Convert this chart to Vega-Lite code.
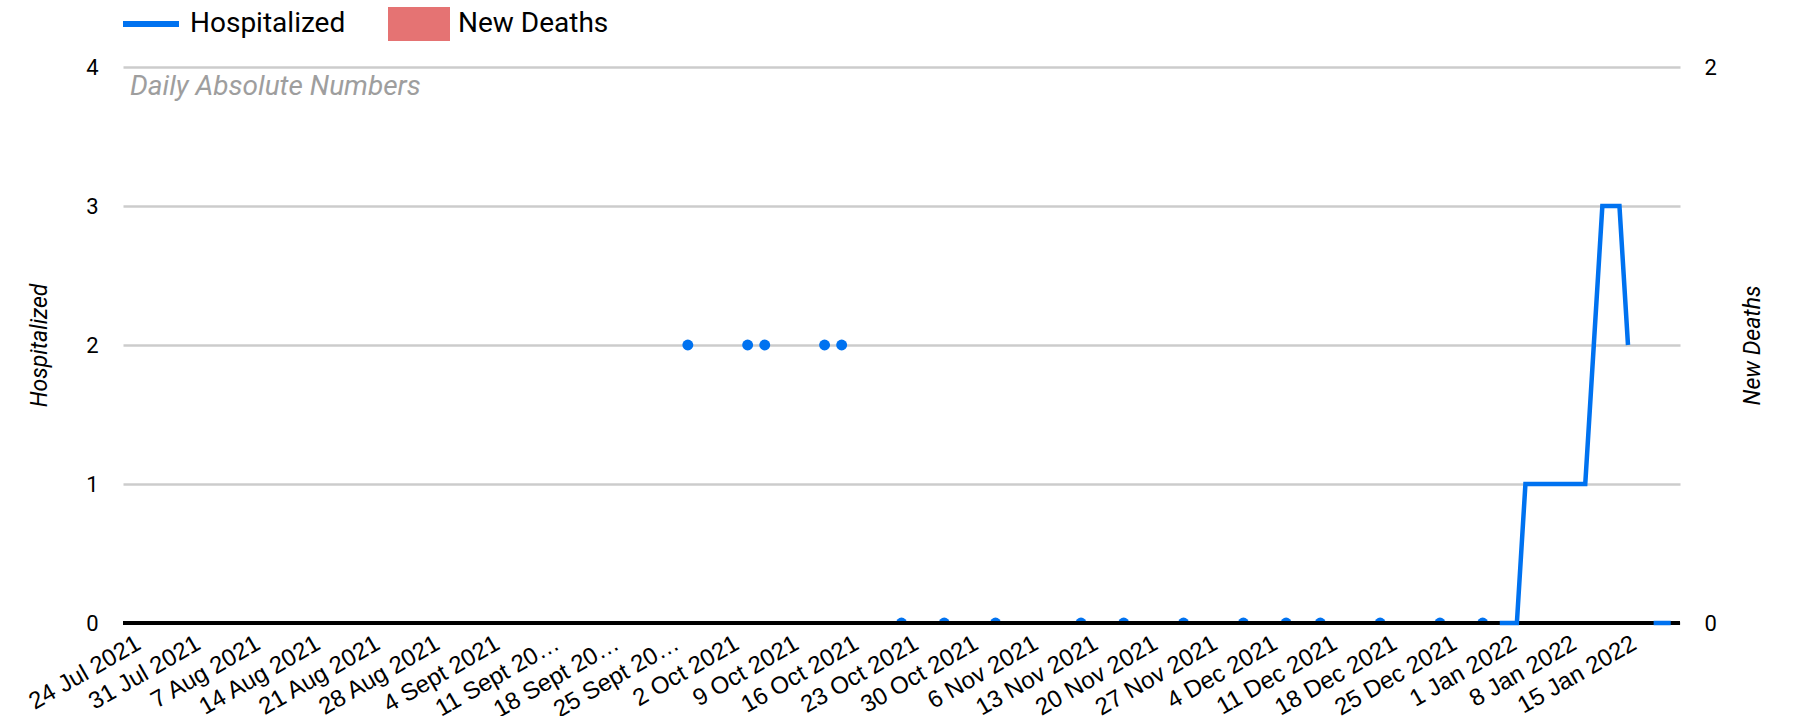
{
  "$schema": "https://vega.github.io/schema/vega-lite/v6.json",
  "width": 1557,
  "height": 556,
  "autosize": {"type": "none"},
  "padding": {"left": 123, "top": 67, "right": 118, "bottom": 93},
  "background": "white",
  "config": {"view": {"stroke": null}},
  "title": {
    "text": "Daily Absolute Numbers",
    "anchor": "start",
    "frame": "group",
    "orient": "top",
    "offset": -130,
    "baseline": "alphabetic",
    "font": "Roboto",
    "fontStyle": "italic",
    "fontWeight": "normal",
    "fontSize": 28,
    "color": "#9e9e9e",
    "dx": 7
  },
  "data": {
    "format": {"parse": {"date": "date:'%Y-%m-%d'"}},
    "values": [
      {"date": "2021-09-27", "hospitalized": 2, "new_deaths": 0},
      {"date": "2021-09-28", "hospitalized": null},
      {"date": "2021-10-04", "hospitalized": 2, "new_deaths": 0},
      {"date": "2021-10-05", "hospitalized": null},
      {"date": "2021-10-06", "hospitalized": 2, "new_deaths": 0},
      {"date": "2021-10-07", "hospitalized": null},
      {"date": "2021-10-13", "hospitalized": 2, "new_deaths": 0},
      {"date": "2021-10-14", "hospitalized": null},
      {"date": "2021-10-15", "hospitalized": 2, "new_deaths": 0},
      {"date": "2021-10-16", "hospitalized": null},
      {"date": "2021-10-22", "hospitalized": 0, "new_deaths": 0},
      {"date": "2021-10-23", "hospitalized": null},
      {"date": "2021-10-27", "hospitalized": 0, "new_deaths": 0},
      {"date": "2021-10-28", "hospitalized": null},
      {"date": "2021-11-02", "hospitalized": 0, "new_deaths": 0},
      {"date": "2021-11-03", "hospitalized": null},
      {"date": "2021-11-12", "hospitalized": 0, "new_deaths": 0},
      {"date": "2021-11-13", "hospitalized": null},
      {"date": "2021-11-17", "hospitalized": 0, "new_deaths": 0},
      {"date": "2021-11-18", "hospitalized": null},
      {"date": "2021-11-24", "hospitalized": 0, "new_deaths": 0},
      {"date": "2021-11-25", "hospitalized": null},
      {"date": "2021-12-01", "hospitalized": 0, "new_deaths": 0},
      {"date": "2021-12-02", "hospitalized": null},
      {"date": "2021-12-06", "hospitalized": 0, "new_deaths": 0},
      {"date": "2021-12-07", "hospitalized": null},
      {"date": "2021-12-10", "hospitalized": 0, "new_deaths": 0},
      {"date": "2021-12-11", "hospitalized": null},
      {"date": "2021-12-17", "hospitalized": 0, "new_deaths": 0},
      {"date": "2021-12-18", "hospitalized": null},
      {"date": "2021-12-24", "hospitalized": 0, "new_deaths": 0},
      {"date": "2021-12-25", "hospitalized": null},
      {"date": "2021-12-29", "hospitalized": 0, "new_deaths": 0},
      {"date": "2021-12-30", "hospitalized": null},
      {"date": "2021-12-31", "hospitalized": 0, "new_deaths": 0},
      {"date": "2022-01-01", "hospitalized": 0, "new_deaths": 0},
      {"date": "2022-01-02", "hospitalized": 0, "new_deaths": 0},
      {"date": "2022-01-03", "hospitalized": 1, "new_deaths": 0},
      {"date": "2022-01-04", "hospitalized": 1, "new_deaths": 0},
      {"date": "2022-01-05", "hospitalized": 1, "new_deaths": 0},
      {"date": "2022-01-06", "hospitalized": 1, "new_deaths": 0},
      {"date": "2022-01-07", "hospitalized": 1, "new_deaths": 0},
      {"date": "2022-01-08", "hospitalized": 1, "new_deaths": 0},
      {"date": "2022-01-09", "hospitalized": 1, "new_deaths": 0},
      {"date": "2022-01-10", "hospitalized": 1, "new_deaths": 0},
      {"date": "2022-01-11", "hospitalized": 2, "new_deaths": 0},
      {"date": "2022-01-12", "hospitalized": 3, "new_deaths": 0},
      {"date": "2022-01-13", "hospitalized": 3, "new_deaths": 0},
      {"date": "2022-01-14", "hospitalized": 3, "new_deaths": 0},
      {"date": "2022-01-15", "hospitalized": 2, "new_deaths": 0},
      {"date": "2022-01-16", "hospitalized": null},
      {"date": "2022-01-18", "hospitalized": 0, "new_deaths": 0},
      {"date": "2022-01-19", "hospitalized": 0, "new_deaths": 0},
      {"date": "2022-01-20", "hospitalized": 0, "new_deaths": 0}
    ]
  },
  "resolve": {"scale": {"y": "independent"}},
  "layer": [
    {
      "mark": {"type": "bar"},
      "encoding": {
        "x": {
          "field": "date",
          "type": "temporal",
          "title": null,
          "scale": {"domain": [{"year": 2021, "month": 7, "date": 23, "hours": 12}, {"year": 2022, "month": 1, "date": 20, "hours": 12}]},
          "axis": {
            "values": [
              {"year": 2021, "month": 7, "date": 24}, {"year": 2021, "month": 7, "date": 31},
              {"year": 2021, "month": 8, "date": 7}, {"year": 2021, "month": 8, "date": 14},
              {"year": 2021, "month": 8, "date": 21}, {"year": 2021, "month": 8, "date": 28},
              {"year": 2021, "month": 9, "date": 4}, {"year": 2021, "month": 9, "date": 11},
              {"year": 2021, "month": 9, "date": 18}, {"year": 2021, "month": 9, "date": 25},
              {"year": 2021, "month": 10, "date": 2}, {"year": 2021, "month": 10, "date": 9},
              {"year": 2021, "month": 10, "date": 16}, {"year": 2021, "month": 10, "date": 23},
              {"year": 2021, "month": 10, "date": 30}, {"year": 2021, "month": 11, "date": 6},
              {"year": 2021, "month": 11, "date": 13}, {"year": 2021, "month": 11, "date": 20},
              {"year": 2021, "month": 11, "date": 27}, {"year": 2021, "month": 12, "date": 4},
              {"year": 2021, "month": 12, "date": 11}, {"year": 2021, "month": 12, "date": 18},
              {"year": 2021, "month": 12, "date": 25}, {"year": 2022, "month": 1, "date": 1},
              {"year": 2022, "month": 1, "date": 8}, {"year": 2022, "month": 1, "date": 15}
            ],
            "labelExpr": "month(datum.value) == 8 && date(datum.value) >= 10 ? timeFormat(datum.value, '%-d') + ' Sept 20…' : replace(timeFormat(datum.value, '%-d %b %Y'), 'Sep ', 'Sept ')",
            "labelAngle": -30,
            "labelAlign": "right",
            "labelBaseline": "top",
            "labelFont": "Liberation Sans",
            "labelFontSize": 24,
            "labelColor": "#000000",
            "labelLimit": 400,
            "labelOverlap": false,
            "labelFlush": false,
            "labelBound": false,
            "labelPadding": 8,
            "ticks": false,
            "tickSize": 0,
            "domain": false,
            "grid": false
          }
        },
        "y": {
          "field": "new_deaths",
          "type": "quantitative",
          "scale": {"domain": [0, 2]},
          "axis": {
            "orient": "right",
            "values": [0, 1, 2],
            "format": "d",
            "title": "New Deaths",
            "titleFont": "Roboto",
            "titleFontStyle": "italic",
            "titleFontWeight": "normal",
            "titleFontSize": 23,
            "titleColor": "#000000",
            "titleAngle": -90,
            "titleAlign": "center",
            "titleBaseline": "middle",
            "titleX": 72,
            "titleY": 278,
            "labelFont": "Roboto",
            "labelFontSize": 22,
            "labelColor": "#000000",
            "labelPadding": 24,
            "ticks": false,
            "domain": false,
            "grid": false
          }
        },
        "color": {
          "datum": "New Deaths",
          "type": "nominal",
          "scale": {"domain": ["Hospitalized", "New Deaths"], "range": ["#0072f0", "#e57373"]},
          "legend": {
            "orient": "none",
            "legendX": -3,
            "legendY": -74,
            "direction": "horizontal",
            "title": null,
            "padding": 0,
            "symbolSize": 3136,
            "symbolStrokeWidth": 6,
            "symbolOpacity": 1,
            "symbolType": "square",
            "labelFont": "Roboto",
            "labelFontSize": 28,
            "labelColor": "#000000",
            "labelOffset": 8,
            "labelLimit": 300,
            "columnPadding": 33,
            "encode": {
              "symbols": {
                "update": {
                  "shape": {"signal": "datum.value === 'Hospitalized' ? 'M-1,-0.5M-1,0H1M1,0.5' : 'M-1,-0.5H1V0.5H-1Z'"},
                  "fill": {"signal": "datum.value === 'Hospitalized' ? 'transparent' : '#e57373'"},
                  "stroke": {"signal": "datum.value === 'Hospitalized' ? '#0072f0' : 'transparent'"},
                  "strokeWidth": {"value": 6}
                }
              }
            }
          }
        }
      }
    },
    {
      "encoding": {
        "y": {
          "field": "hospitalized",
          "type": "quantitative",
          "scale": {"domain": [0, 4]},
          "axis": {
            "orient": "left",
            "values": [0, 1, 2, 3, 4],
            "format": "d",
            "title": "Hospitalized",
            "titleFont": "Roboto",
            "titleFontStyle": "italic",
            "titleFontWeight": "normal",
            "titleFontSize": 23,
            "titleColor": "#000000",
            "titleAngle": -90,
            "titleAlign": "center",
            "titleBaseline": "middle",
            "titleX": -84,
            "titleY": 278,
            "labelFont": "Roboto",
            "labelFontSize": 22,
            "labelColor": "#000000",
            "labelPadding": 25,
            "ticks": false,
            "domain": false,
            "grid": true,
            "gridColor": "#cccccc",
            "gridWidth": 2.5
          }
        }
      },
      "layer": [
        {
          "transform": [
            {"window": [{"op": "lag", "field": "hospitalized", "as": "prev"}, {"op": "lead", "field": "hospitalized", "as": "next"}], "sort": [{"field": "date"}]},
            {"filter": "datum.hospitalized != null && datum.prev == null && datum.next == null"}
          ],
          "mark": {"type": "point", "filled": true, "size": 120, "opacity": 1, "clip": true},
          "encoding": {
            "x": {"field": "date", "type": "temporal", "title": null},
            "color": {"datum": "Hospitalized", "type": "nominal"}
          }
        },
        {
          "mark": {"type": "rule", "color": "#000000", "strokeWidth": 3.5},
          "encoding": {"y": {"datum": 0}}
        },
        {
          "mark": {"type": "line", "strokeWidth": 4.5, "strokeJoin": "miter", "strokeCap": "butt"},
          "encoding": {
            "x": {"field": "date", "type": "temporal", "title": null},
            "color": {"datum": "Hospitalized", "type": "nominal"}
          }
        }
      ]
    }
  ]
}
